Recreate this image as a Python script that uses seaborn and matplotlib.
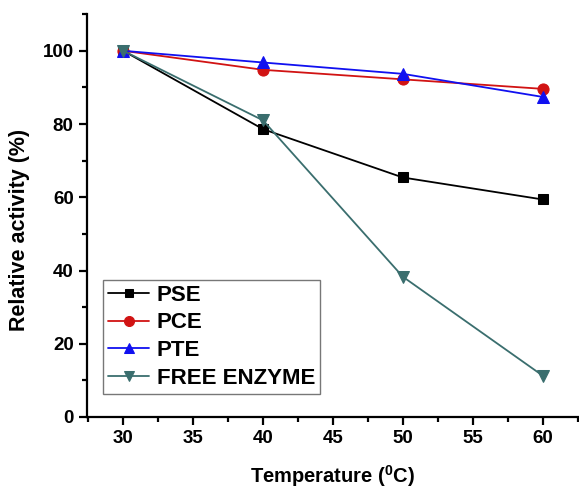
import matplotlib
matplotlib.use("Agg")
import matplotlib.pyplot as plt
import seaborn as sns
import pandas as pd
from matplotlib.ticker import MultipleLocator

temps = [30, 40, 50, 60]
pse = [100, 78.6, 65.4, 59.4]
pce = [100, 94.8, 92.2, 89.6]
pte = [100, 96.8, 93.7, 87.4]
free_enzyme = [100, 81.0, 38.3, 11.3]
names = ["PSE", "PCE", "PTE", "FREE ENZYME"]
colors = ["#000000", "#d11313", "#1010f0", "#3a6e6e"]
markers = ["s", "o", "^", "v"]

sns.set_theme(style="ticks")
plt.rcParams['font.family'] = ['Liberation Sans', 'DejaVu Sans']
plt.rcParams['mathtext.fontset'] = 'custom'
plt.rcParams['mathtext.bf'] = 'Liberation Sans:bold'
plt.rcParams['mathtext.rm'] = 'Liberation Sans:bold'
plt.rcParams['text.color'] = 'black'
plt.rcParams['axes.labelcolor'] = 'black'
plt.rcParams['xtick.color'] = 'black'
plt.rcParams['ytick.color'] = 'black'

fig = plt.figure(figsize=(5.79, 4.88), dpi=100)
ax = fig.add_axes([0.150, 0.1455, 0.850, 0.8255])

series = [pse, pce, pte, free_enzyme]
for name, vals, c, m in zip(names, series, colors, markers):
    df = pd.DataFrame({"T": temps, "A": vals})
    sns.lineplot(data=df, x="T", y="A", ax=ax, color=c, marker=m,
                 markersize=8 if m != "s" else 6.5, markeredgecolor=c,
                 linewidth=1.3, label=name)

ax.set_xlim(27.4, 62.6)
ax.set_ylim(0, 110)
ax.xaxis.set_major_locator(MultipleLocator(5))
ax.xaxis.set_minor_locator(MultipleLocator(2.5))
ax.yaxis.set_major_locator(MultipleLocator(20))
ax.yaxis.set_minor_locator(MultipleLocator(10))
ax.set_yticks([0, 20, 40, 60, 80, 100])

for s in ["top", "right"]:
    ax.spines[s].set_visible(False)
for s in ["left", "bottom"]:
    ax.spines[s].set_linewidth(1.6)
    ax.spines[s].set_color("black")

ax.tick_params(axis="both", which="major", direction="out", length=6, width=1.6,
               labelsize=13.5, colors="black")
ax.tick_params(axis="both", which="minor", direction="out", length=3.5, width=1.6)
for lab in ax.get_xticklabels() + ax.get_yticklabels():
    lab.set_fontweight("bold")

ax.set_xlabel(r"Temperature ($^{\mathbf{0}}$C)", fontsize=14.5, fontweight="bold")
ax.xaxis.set_label_coords(0.5, -0.146)
ax.xaxis.label.set_verticalalignment("center")
ax.set_ylabel("Relative activity (%)", fontsize=15.5, fontweight="bold")
ax.yaxis.set_label_coords(-0.136, 0.464)
ax.yaxis.label.set_verticalalignment("center")

leg = ax.legend(loc="lower left", bbox_to_anchor=(0.033, 0.058), frameon=True,
                fancybox=False, edgecolor="#555555", prop={"weight": "bold", "size": 16},
                handlelength=1.85, handletextpad=0.35, borderpad=0.22, labelspacing=0.3,
                borderaxespad=0, markerscale=0.9)
leg.get_frame().set_linewidth(1.0)

fig.savefig("out.png", dpi=100)
